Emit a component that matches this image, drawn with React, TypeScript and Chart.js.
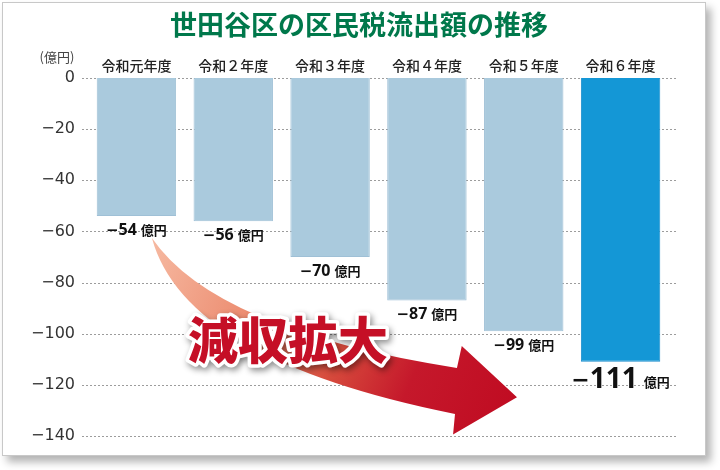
import { useEffect, useRef } from "react";
import { Chart, registerables } from "chart.js";

Chart.register(...registerables);

// 区民税流出額（億円）
const categories = ["令和元年度", "令和２年度", "令和３年度", "令和４年度", "令和５年度", "令和６年度"];
const outflow = [-54, -56, -70, -87, -99, -111];
const barColors = ["#aacadd", "#aacadd", "#aacadd", "#aacadd", "#aacadd", "#1497d6"];
const barBorders = ["#9fc0d6", "#9fc0d6", "#9fc0d6", "#9fc0d6", "#9fc0d6", "#1a8dcc"];
const yMin = -140;
const yMax = 0;
const yStep = 20;

const title = "世田谷区の区民税流出額の推移";
const unitLabel = "(億円)";
const valueUnit = "億円";
const callout = "減収拡大";

const JP = '"Noto Sans CJK JP", "Noto Sans", sans-serif';
const NUM = '"Noto Sans", "Noto Sans CJK JP", sans-serif';
const DASH = '"DejaVu Sans", sans-serif';

const MINUS = "\u2212";
const minus = (v: number) => (v === 0 ? "0" : MINUS + Math.abs(v));

// dotted horizontal grid, a bit wider than the plot area
const dottedGrid = {
  id: "dottedGrid",
  beforeDatasetsDraw(chart: any) {
    const { ctx, chartArea, scales } = chart;
    const y = scales.y;
    ctx.save();
    ctx.strokeStyle = "#9c9c9c";
    ctx.lineWidth = 1;
    ctx.setLineDash([2, 2]);
    y.ticks.forEach((t: any) => {
      const py = Math.round(y.getPixelForValue(t.value)) + 0.5;
      ctx.beginPath();
      ctx.moveTo(chartArea.left - 6, py);
      ctx.lineTo(chartArea.right + 8, py);
      ctx.stroke();
    });
    ctx.restore();
  },
};

// title + unit
const headings = {
  id: "headings",
  afterDraw(chart: any) {
    const { ctx } = chart;
    ctx.save();
    ctx.fillStyle = "#00784b";
    ctx.font = `bold 27px ${JP}`;
    ctx.textAlign = "center";
    ctx.textBaseline = "middle";
    ctx.fillText(title, 359, 25);
    ctx.fillStyle = "#444";
    ctx.font = `13px ${JP}`;
    ctx.fillText(unitLabel, 57, 57);
    ctx.restore();
  },
};

// curved arrow and the "減収拡大" callout
const arrow = {
  id: "arrow",
  afterDatasetsDraw(chart: any) {
    const { ctx, scales } = chart;
    const p = (i: number, v: number) => [scales.x.getPixelForValue(i), scales.y.getPixelForValue(v)];
    const T = p(0.16, -62.6);
    const C1 = p(0.81, -98.6);
    const J1 = p(3.31, -113.4);
    const H1 = p(3.36, -104.8);
    const tip = p(3.93, -124.8);
    const H2 = p(3.27, -139.4);
    const J2 = p(3.29, -131.4);
    const C2 = p(0.5, -110.3);

    ctx.save();
    const g = ctx.createLinearGradient(T[0], T[1], tip[0], tip[1]);
    g.addColorStop(0, "#f6b9a1");
    g.addColorStop(0.3, "#ec8c70");
    g.addColorStop(0.55, "#d64a3c");
    g.addColorStop(0.74, "#c5182b");
    g.addColorStop(1, "#c00c22");
    ctx.fillStyle = g;
    ctx.beginPath();
    ctx.moveTo(T[0], T[1]);
    ctx.quadraticCurveTo(C1[0], C1[1], J1[0], J1[1]);
    ctx.lineTo(H1[0], H1[1]);
    ctx.lineTo(tip[0], tip[1]);
    ctx.lineTo(H2[0], H2[1]);
    ctx.lineTo(J2[0], J2[1]);
    ctx.quadraticCurveTo(C2[0], C2[1], T[0], T[1]);
    ctx.closePath();
    ctx.fill();
    ctx.restore();

    const [cx, cy] = p(1.565, -102.5);
    ctx.save();
    ctx.font = `900 50px ${JP}`;
    ctx.textAlign = "center";
    ctx.textBaseline = "middle";
    ctx.lineJoin = "round";
    ctx.shadowColor = "rgba(0,0,0,0.45)";
    ctx.shadowBlur = 6;
    ctx.shadowOffsetX = 2;
    ctx.shadowOffsetY = 3;
    ctx.strokeStyle = "#fff";
    ctx.lineWidth = 7;
    ctx.strokeText(callout, cx, cy);
    ctx.restore();
    ctx.save();
    ctx.font = `900 50px ${JP}`;
    ctx.textAlign = "center";
    ctx.textBaseline = "middle";
    ctx.fillStyle = "#c50f26";
    ctx.fillText(callout, cx, cy);
    ctx.restore();
  },
};

// "−54 億円" labels under each bar
const valueLabels = {
  id: "valueLabels",
  afterDatasetsDraw(chart: any) {
    const { ctx } = chart;
    const meta = chart.getDatasetMeta(0);
    const last = outflow.length - 1;
    ctx.save();
    ctx.fillStyle = "#111";
    ctx.textBaseline = "alphabetic";
    ctx.textAlign = "left";
    meta.data.forEach((bar: any, i: number) => {
      const big = i === last;
      const size = big ? 28 : 16;
      const dashFont = `bold ${big ? 22 : 15}px ${DASH}`;
      const numFont = `bold ${size}px ${NUM}`;
      const unitFont = `bold 13px ${JP}`;
      const digits = String(Math.abs(outflow[i]));
      ctx.font = dashFont;
      const wd = ctx.measureText(MINUS).width;
      ctx.font = numFont;
      const wn = ctx.measureText(digits).width;
      ctx.font = unitFont;
      const wu = ctx.measureText(valueUnit).width;
      const gap = big ? 6 : 4;
      const total = wd + wn + gap + wu;
      const x0 = bar.x - total / 2;
      const base = bar.y + (big ? 26 : 19);
      ctx.font = dashFont;
      ctx.fillText(MINUS, x0, base - (big ? 1 : 0));
      ctx.font = numFont;
      ctx.fillText(digits, x0 + wd, base);
      ctx.font = unitFont;
      ctx.fillText(valueUnit, x0 + wd + wn + gap, base - (big ? 1 : 0));
    });
    ctx.restore();
  },
};

export default function App() {
  const canvasRef = useRef<HTMLCanvasElement | null>(null);

  useEffect(() => {
    if (!canvasRef.current) return;

    const chart = new Chart(canvasRef.current, {
      type: "bar",
      data: {
        labels: categories,
        datasets: [
          {
            data: outflow,
            backgroundColor: barColors,
            borderColor: barBorders,
            borderWidth: 1,
            barPercentage: 0.82,
            categoryPercentage: 1,
          },
        ],
      },
      options: {
        responsive: false,
        animation: false,
        layout: { padding: { top: 48, left: 0, right: 51, bottom: 34 } },
        plugins: {
          legend: { display: false },
          tooltip: { enabled: false },
        },
        scales: {
          x: {
            position: "top",
            grid: { display: false, drawTicks: false },
            border: { display: false },
            ticks: {
              color: "#222",
              padding: 4,
              font: { family: JP, size: 14, weight: 500 },
            },
            afterFit: (s: any) => {
              s.height = 30;
            },
          },
          y: {
            min: yMin,
            max: yMax,
            grid: { display: false, drawTicks: false },
            border: { display: false },
            ticks: {
              stepSize: yStep,
              color: "#333",
              padding: 13,
              font: { family: DASH, size: 16 },
              callback: (v: any) => minus(Number(v)),
            },
            afterFit: (s: any) => {
              s.width = 88;
            },
          },
        },
      } as any,
      plugins: [dottedGrid, arrow, valueLabels, headings],
    });

    return () => {
      chart.destroy();
    };
  }, []);

  return (
    <div style={{ position: "fixed", left: 0, top: 0, width: 720, height: 470, background: "#fff" }}>
      <div
        style={{
          position: "absolute",
          left: 2,
          top: 2,
          width: 702,
          height: 452,
          border: "1px solid #c8c8c8",
          boxShadow: "5px 6px 8px rgba(0,0,0,0.3)",
          background: "#fff",
        }}
      />
      <canvas
        ref={canvasRef}
        width={720}
        height={470}
        style={{ position: "absolute", left: 0, top: 0, width: 720, height: 470 }}
      />
    </div>
  );
}
